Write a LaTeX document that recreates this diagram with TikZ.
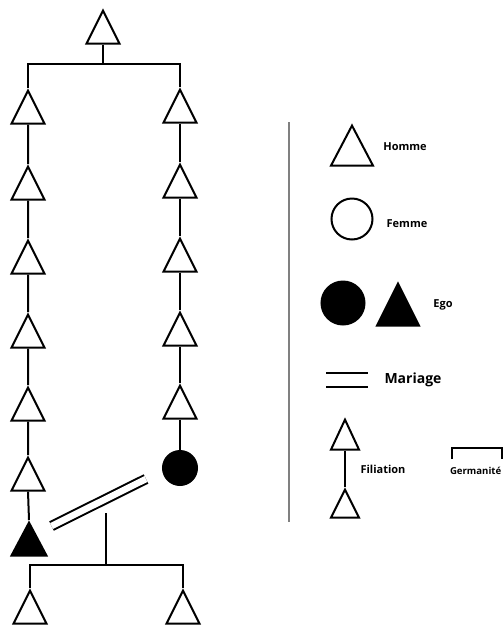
\documentclass[tikz,border=0pt]{standalone}
\usepackage{fontspec}
\setmainfont{Open Sans}
\usetikzlibrary{shapes.geometric}

\begin{document}
\begin{tikzpicture}[x=1pt, y=-1pt, line width=2pt,
  homme/.style={draw, fill=white, isosceles triangle, isosceles triangle stretches, shape border rotate=90, inner sep=0pt, minimum width=33pt, minimum height=33pt, anchor=apex},
  femme/.style={draw, circle, inner sep=0pt, minimum size=34pt},
  legende/.style={font=\bfseries\fontsize{11}{13}\selectfont, inner sep=0pt}]
\useasboundingbox (0,0) rectangle (503,625);
% \node at (100, -10) {Ancetre};
\node[homme] (Ancetre) at (103,8) {};
\coordinate (Fratrie haut) at (103,64);

\node[homme] (Gauche 1) at (28,88) {};
\node[homme] (Gauche 2) at (28,164) {};
\node[homme] (Gauche 3) at (28,238) {};
\node[homme] (Gauche 4) at (28,312) {};
\node[homme] (Gauche 5) at (28,385) {};
\node[homme] (Gauche 6) at (28,455) {};
\node[homme, fill=black, minimum width=35pt] (Ego) at (29,520) {};

\node[homme] (Droite 1) at (180,87) {};
\node[homme] (Droite 2) at (180,162) {};
\node[homme] (Droite 3) at (180,236) {};
\node[homme] (Droite 4) at (180,310) {};
\node[homme] (Droite 5) at (180,383) {};
\node[femme, fill=black] (Epouse) at (180,468) {};

\draw (Ancetre.lower side) -- (Fratrie haut);
\draw (Gauche 1.apex) |- (Fratrie haut) -| (Droite 1.apex);
\draw (Gauche 1.lower side) -- (Gauche 2.apex) (Gauche 2.lower side) -- (Gauche 3.apex)
  (Gauche 3.lower side) -- (Gauche 4.apex) (Gauche 4.lower side) -- (Gauche 5.apex)
  (Gauche 5.lower side) -- (Gauche 6.apex) (Gauche 6.lower side) -- (Ego.apex);
\draw (Droite 1.lower side) -- (Droite 2.apex) (Droite 2.lower side) -- (Droite 3.apex)
  (Droite 3.lower side) -- (Droite 4.apex) (Droite 4.lower side) -- (Droite 5.apex)
  (Droite 5.lower side) -- (Epouse.north);

% mariage et enfants
\coordinate (Mariage a) at (51.5,526);
\coordinate (Mariage b) at (146,479);
\draw[double distance=6.5pt] (Mariage a) -- (Mariage b);
\coordinate (Enfants) at (106,513);
\coordinate (Fratrie bas) at (106,565);
\node[homme] (Fils 1) at (30,588) {};
\node[homme] (Fils 2) at (183,588) {};
\draw (Enfants) -- (Fratrie bas);
\draw (Fils 1.apex) |- (Fratrie bas) -| (Fils 2.apex);

% legende
\draw[black!50, line width=1.5pt] (289,122) -- (289,522);
\node[homme, minimum width=42pt, minimum height=40pt] (Homme) at (352,123) {};
\node[legende] (Homme texte) at (405,147) {Homme};
\node[femme, minimum size=41pt] (Femme) at (352,219) {};
\node[legende] (Femme texte) at (407,224) {Femme};
\node[femme, fill=black, minimum size=43pt] (Ego cercle) at (343,303) {};
\node[homme, fill=black, minimum width=42pt, minimum height=42pt] (Ego triangle) at (398,281) {};
\node[legende] (Ego texte) at (443,305) {Ego};
\draw (326,373) -- (368,373);
\draw (326,387) -- (368,387);
\node[legende, font=\bfseries\fontsize{14}{16}\selectfont] (Mariage texte) at (413,380) {Mariage};
\node[homme, minimum width=28pt, minimum height=30pt] (Filiation haut) at (345,417) {};
\node[homme, minimum width=28pt, minimum height=28pt] (Filiation bas) at (345,487) {};
\draw (Filiation haut.lower side) -- (Filiation bas.apex);
\node[legende] (Filiation texte) at (383,469) {Filiation};
\draw (452,459) |- (502,448) -- (502,459);
\node[legende, anchor=west, font=\bfseries\fontsize{9.6}{12}\selectfont] (Germanite texte) at (449,471) {Germanité};
\end{tikzpicture}
\end{document}
